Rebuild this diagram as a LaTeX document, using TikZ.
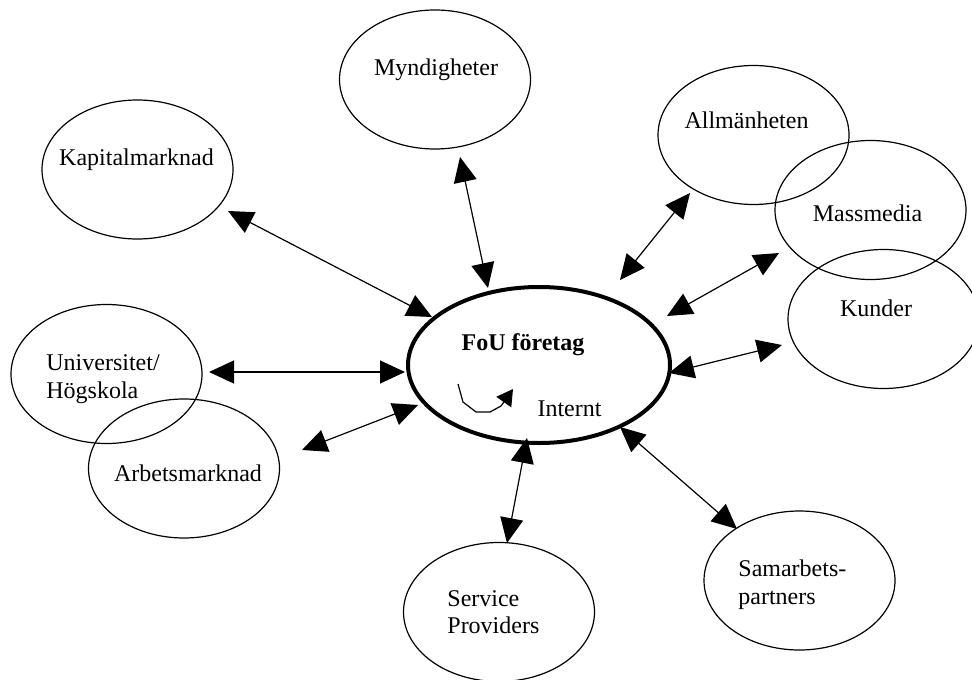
\documentclass[tikz,border=0pt]{standalone}
\usepackage{fontspec}
\setmainfont{Liberation Serif}
\usetikzlibrary{arrows.meta,shapes.geometric}
\begin{document}
\begin{tikzpicture}[x=0.5pt,y=-0.5pt,
  font=\fontsize{12}{13.8}\selectfont,
  oval/.style={draw=black,line width=0.6pt,ellipse,inner sep=0pt,minimum width=95.5pt,minimum height=69.5pt},
  core/.style={draw=black,line width=2pt,ellipse,inner sep=0pt,minimum width=131pt,minimum height=78pt},
  lbl/.style={inner sep=0pt,align=left},
  link/.style={line width=0.6pt,{Triangle[length=12.5pt,width=11.5pt]}-{Triangle[length=12.5pt,width=11.5pt]}},
  selfarrow/.style={line width=0.6pt,-{Triangle[length=8pt,width=9pt]}}]
\useasboundingbox (0,0) rectangle (972,679);
% ellipses
\node[oval] (mynd) at (435,79.5) {};
\node[oval] (kap) at (137.5,169.5) {};
\node[oval] (allm) at (753.5,135) {};
\node[oval] (mass) at (870.5,210) {};
\node[oval] (kund) at (883.5,319) {};
\node[oval] (univ) at (106.5,374) {};
\node[oval] (arb) at (184,468.5) {};
\node[core] (fou) at (539,365) {};
\node[oval] (serv) at (499,612) {};
\node[oval] (samar) at (799.5,580.5) {};
% labels
\node[lbl] (tmynd) at (436,70) {Myndigheter};
\node[lbl] (tkap) at (136.5,160) {Kapitalmarknad};
\node[lbl] (tallm) at (746.5,120) {Allmänheten};
\node[lbl] (tmass) at (867.5,213) {Massmedia};
\node[lbl] (tkund) at (876,308) {Kunder};
\node[lbl,anchor=west] (tuniv) at (46,379) {Universitet/\\Högskola};
\node[lbl] (tarb) at (188,473) {Arbetsmarknad};
\node[lbl,font=\fontsize{12}{13.8}\selectfont\bfseries] (tfou) at (523,345) {FoU företag};
\node[lbl] (tint) at (569.5,409) {Internt};
\node[lbl,anchor=west] (tserv) at (447,612) {Service\\Providers};
\node[lbl,anchor=west] (tsamar) at (738,585) {Samarbets-\\partners};
% connector end points
\coordinate (kapA) at (228,211);   \coordinate (kapB) at (432,317);
\coordinate (myndA) at (460,157);  \coordinate (myndB) at (488,288);
\coordinate (allmA) at (690,193);  \coordinate (allmB) at (620,280);
\coordinate (massA) at (779,253);  \coordinate (massB) at (667,316);
\coordinate (kundA) at (782,345);  \coordinate (kundB) at (669,373);
\coordinate (univA) at (209,372);  \coordinate (univB) at (405,372);
\coordinate (arbA) at (302,450);   \coordinate (arbB) at (418,405);
\coordinate (servA) at (507,543);  \coordinate (servB) at (527,438);
\coordinate (samarA) at (737,529); \coordinate (samarB) at (620,427);
\draw[link] (kapA) -- (kapB);
\draw[link] (myndA) -- (myndB);
\draw[link] (allmA) -- (allmB);
\draw[link] (massA) -- (massB);
\draw[link] (kundA) -- (kundB);
\draw[link] (univA) -- (univB);
\draw[link] (arbA) -- (arbB);
\draw[link] (servA) -- (servB);
\draw[link] (samarA) -- (samarB);
% internal arrow
\coordinate (intA) at (458,384);
\coordinate (intB) at (513,389);
\draw[selfarrow] (intA) -- (463,402) -- (476,412) -- (490,412) -- (501,406) -- (intB);
\end{tikzpicture}
\end{document}
